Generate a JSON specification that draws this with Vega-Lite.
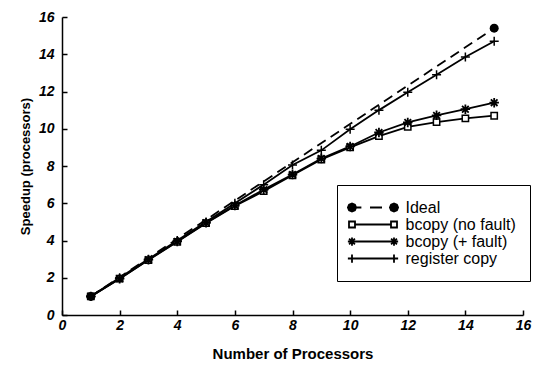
{
  "$schema": "https://vega.github.io/schema/vega-lite/v6.json",
  "width": 461,
  "height": 298,
  "autosize": {"type": "none"},
  "padding": {"left": 62, "top": 17, "right": 13, "bottom": 52},
  "background": "white",
  "config": {
    "view": {"stroke": null},
    "font": "Liberation Sans",
    "axis": {
      "grid": false,
      "domainColor": "black",
      "domainWidth": 1.5,
      "tickColor": "black",
      "tickWidth": 1.5,
      "tickSize": -5,
      "labelFont": "Liberation Sans",
      "labelFontStyle": "italic",
      "labelFontWeight": "bold",
      "labelFontSize": 14,
      "labelColor": "black",
      "labelFlush": false,
      "labelOverlap": false,
      "titleFont": "Liberation Sans",
      "titleFontWeight": "bold",
      "titleColor": "black"
    },
    "legend": {
      "title": null,
      "orient": "none",
      "legendX": 275,
      "legendY": 168,
      "strokeColor": "black",
      "fillColor": "white",
      "padding": 14,
      "symbolSize": 225,
      "symbolStrokeWidth": 1.8,
      "symbolStrokeColor": "black",
      "symbolOffset": 13.5,
      "labelOffset": 24,
      "labelFont": "Liberation Sans",
      "labelFontSize": 16,
      "labelColor": "black",
      "rowPadding": -3
    }
  },
  "data": {
    "values": [
      {"series": "Ideal", "x": 1, "y": 1},
      {"series": "Ideal", "x": 15, "y": 15.4},
      {"series": "bcopy (no fault)", "x": 1, "y": 1},
      {"series": "bcopy (no fault)", "x": 2, "y": 1.95},
      {"series": "bcopy (no fault)", "x": 3, "y": 2.95},
      {"series": "bcopy (no fault)", "x": 4, "y": 3.93},
      {"series": "bcopy (no fault)", "x": 5, "y": 4.93},
      {"series": "bcopy (no fault)", "x": 6, "y": 5.85},
      {"series": "bcopy (no fault)", "x": 7, "y": 6.65},
      {"series": "bcopy (no fault)", "x": 8, "y": 7.5},
      {"series": "bcopy (no fault)", "x": 9, "y": 8.35},
      {"series": "bcopy (no fault)", "x": 10, "y": 9.0},
      {"series": "bcopy (no fault)", "x": 11, "y": 9.6},
      {"series": "bcopy (no fault)", "x": 12, "y": 10.1},
      {"series": "bcopy (no fault)", "x": 13, "y": 10.36},
      {"series": "bcopy (no fault)", "x": 14, "y": 10.56},
      {"series": "bcopy (no fault)", "x": 15, "y": 10.7},
      {"series": "bcopy (+ fault)", "x": 1, "y": 1},
      {"series": "bcopy (+ fault)", "x": 2, "y": 1.95},
      {"series": "bcopy (+ fault)", "x": 3, "y": 2.97},
      {"series": "bcopy (+ fault)", "x": 4, "y": 3.95},
      {"series": "bcopy (+ fault)", "x": 5, "y": 4.95},
      {"series": "bcopy (+ fault)", "x": 6, "y": 5.88},
      {"series": "bcopy (+ fault)", "x": 7, "y": 6.73},
      {"series": "bcopy (+ fault)", "x": 8, "y": 7.54},
      {"series": "bcopy (+ fault)", "x": 9, "y": 8.4},
      {"series": "bcopy (+ fault)", "x": 10, "y": 9.05},
      {"series": "bcopy (+ fault)", "x": 11, "y": 9.8},
      {"series": "bcopy (+ fault)", "x": 12, "y": 10.34},
      {"series": "bcopy (+ fault)", "x": 13, "y": 10.72},
      {"series": "bcopy (+ fault)", "x": 14, "y": 11.05},
      {"series": "bcopy (+ fault)", "x": 15, "y": 11.4},
      {"series": "register copy", "x": 1, "y": 1},
      {"series": "register copy", "x": 2, "y": 2},
      {"series": "register copy", "x": 3, "y": 3},
      {"series": "register copy", "x": 4, "y": 4},
      {"series": "register copy", "x": 5, "y": 5},
      {"series": "register copy", "x": 6, "y": 6},
      {"series": "register copy", "x": 7, "y": 7.0},
      {"series": "register copy", "x": 8, "y": 8.05},
      {"series": "register copy", "x": 9, "y": 8.84},
      {"series": "register copy", "x": 10, "y": 9.97},
      {"series": "register copy", "x": 11, "y": 11.0},
      {"series": "register copy", "x": 12, "y": 11.96},
      {"series": "register copy", "x": 13, "y": 12.9},
      {"series": "register copy", "x": 14, "y": 13.85},
      {"series": "register copy", "x": 15, "y": 14.7}
    ]
  },
  "encoding": {
    "x": {
      "field": "x",
      "type": "quantitative",
      "scale": {"domain": [0, 16], "nice": false, "zero": false},
      "axis": {
        "title": "Number of Processors",
        "values": [0, 2, 4, 6, 8, 10, 12, 14, 16],
        "labelPadding": 8,
        "titleFontSize": 15,
        "titlePadding": 14
      }
    },
    "y": {
      "field": "y",
      "type": "quantitative",
      "scale": {"domain": [0, 16], "nice": false, "zero": false},
      "axis": {
        "title": "Speedup (processors)",
        "values": [0, 2, 4, 6, 8, 10, 12, 14, 16],
        "labelPadding": 13,
        "titleFontSize": 13,
        "titlePadding": 6
      }
    }
  },
  "layer": [
    {
      "transform": [{"filter": "datum.series === 'Ideal'"}],
      "mark": {"type": "line", "color": "black", "strokeWidth": 1.8, "strokeDash": [10, 6]},
      "encoding": {}
    },
    {
      "transform": [{"filter": "datum.series !== 'Ideal'"}],
      "mark": {"type": "line", "color": "black", "strokeWidth": 1.8},
      "encoding": {"detail": {"field": "series"}}
    },
    {
      "transform": [{"filter": "datum.series === 'bcopy (no fault)'"}],
      "mark": {"type": "point", "shape": "square", "size": 40, "filled": false, "fill": "white", "fillOpacity": 1, "stroke": "black", "strokeWidth": 1.5, "opacity": 1}
    },
    {
      "transform": [{"filter": "datum.series === 'bcopy (+ fault)'"}],
      "mark": {"type": "point", "shape": "M-1,0L1,0M0,-1L0,1M-0.7,-0.7L0.7,0.7M-0.7,0.7L0.7,-0.7", "size": 90, "filled": false, "stroke": "black", "strokeWidth": 1.8, "opacity": 1}
    },
    {
      "transform": [{"filter": "datum.series === 'register copy'"}],
      "mark": {"type": "point", "shape": "M-1,0L1,0M0,-1L0,1", "size": 81, "filled": false, "stroke": "black", "strokeWidth": 1.5, "opacity": 1}
    },
    {
      "transform": [{"filter": "datum.series === 'Ideal'"}],
      "mark": {"type": "point", "shape": "circle", "size": 81, "filled": true, "color": "black", "opacity": 1}
    },
    {
      "transform": [{"filter": "datum.x > 100"}],
      "mark": {"type": "point", "filled": true, "strokeWidth": 1.8, "opacity": 1},
      "encoding": {
        "shape": {
          "field": "series",
          "type": "nominal",
          "scale": {
            "domain": ["Ideal", "bcopy (no fault)", "bcopy (+ fault)", "register copy"],
            "range": [
              "M-2.25,0L-2.41,0.39L-2.8,0.55L-3.19,0.39L-3.35,0L-3.19,-0.39L-2.8,-0.55L-2.41,-0.39ZM3.35,0L3.19,0.39L2.8,0.55L2.41,0.39L2.25,0L2.41,-0.39L2.8,-0.55L3.19,-0.39ZM-2.25,0L-1.55,0M-0.4,0L1.2,0",
              "M-3.2,-0.4L-2.4,-0.4L-2.4,0.4L-3.2,0.4ZM-2.4,0L2.4,0M2.4,-0.4L3.2,-0.4L3.2,0.4L2.4,0.4Z",
              "M-3.35,0L-2.25,0M-2.8,-0.55L-2.8,0.55M-3.19,-0.39L-2.41,0.39M-3.19,0.39L-2.41,-0.39M2.25,0L3.35,0M2.8,-0.55L2.8,0.55M2.41,-0.39L3.19,0.39M2.41,0.39L3.19,-0.39M-2.25,0L2.25,0",
              "M-3.35,0L3.35,0M-2.8,-0.55L-2.8,0.55M2.8,-0.55L2.8,0.55"
            ]
          },
          "legend": {}
        },
        "fill": {
          "field": "series",
          "type": "nominal",
          "scale": {
            "domain": ["Ideal", "bcopy (no fault)", "bcopy (+ fault)", "register copy"],
            "range": ["black", "white", "white", "white"]
          },
          "legend": {}
        },
        "stroke": {
          "field": "series",
          "type": "nominal",
          "scale": {
            "domain": ["Ideal", "bcopy (no fault)", "bcopy (+ fault)", "register copy"],
            "range": ["black", "black", "black", "black"]
          },
          "legend": {}
        }
      }
    }
  ]
}
